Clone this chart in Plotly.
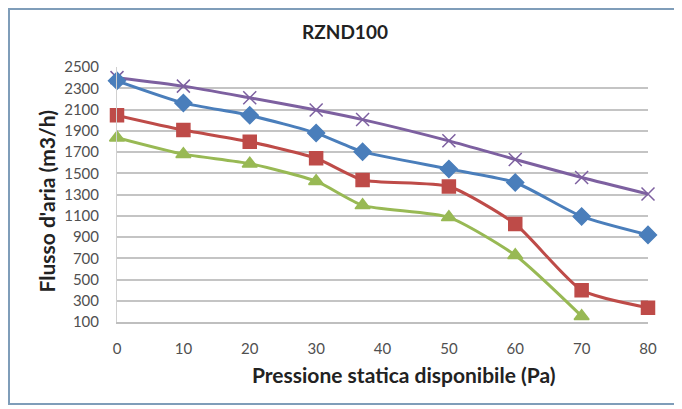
import plotly.graph_objects as go

# Pressione statica disponibile (Pa)
pressione = [0, 10, 20, 30, 37, 50, 60, 70, 80]
pressione_verde = [0, 10, 20, 30, 37, 50, 60, 70]

# Flusso d'aria (m3/h)
flusso_viola = [2400, 2320, 2210, 2095, 2005, 1805, 1630, 1460, 1305]
flusso_blu = [2370, 2162, 2045, 1878, 1703, 1541, 1413, 1094, 920]
flusso_rosso = [2045, 1907, 1797, 1641, 1437, 1375, 1022, 400, 235]
flusso_verde = [1835, 1680, 1590, 1425, 1198, 1085, 728, 155]

y_ticks = list(range(100, 2501, 200))
x_ticks = list(range(0, 81, 10))

fnt = "Lato, 'Open Sans', sans-serif"

fig = go.Figure()

def add_line(x, y, color, symbol, size):
    fig.add_trace(go.Scatter(
        x=x, y=y, mode="lines+markers",
        line=dict(color=color, width=3, shape="spline", smoothing=0.6),
        marker=dict(symbol=symbol, size=size, color=color,
                    line=dict(color=color, width=1.5)),
        cliponaxis=False, showlegend=False))

add_line(pressione, flusso_viola, "#7D60A0", "x-thin", 13)
add_line(pressione, flusso_blu, "#4A7EBB", "diamond", 13)
add_line(pressione, flusso_rosso, "#BE4B48", "square", 13)
add_line(pressione_verde, flusso_verde, "#98B954", "triangle-up", 13)

# la pagina ha 8px di margine: figura ridotta di conseguenza
fig.update_layout(
    width=674, height=401,
    margin=dict(l=109, r=34, t=59, b=87, autoexpand=False),
    paper_bgcolor="white", plot_bgcolor="white",
    font=dict(family=fnt, color="#404040"),
    title=dict(text="<b>RZND100</b>", x=0.5, xanchor="center",
               y=1 - 24 / 401, yanchor="middle",
               font=dict(size=19, color="#222222")),
    xaxis=dict(range=[0, 80], tickvals=x_ticks, showgrid=False,
               showline=True, linecolor="#BFBFBF", linewidth=1.5,
               ticks="", ticklabelstandoff=12,
               tickfont=dict(size=15, color="#505050"),
               zeroline=False),
    yaxis=dict(range=[100, 2500], tickvals=y_ticks, showgrid=True,
               gridcolor="#C4C4C4", gridwidth=1.8,
               showline=True, linecolor="#D0D0D0", linewidth=1,
               ticks="", ticklabelstandoff=14,
               tickfont=dict(size=15, color="#505050"),
               zeroline=False),
)

# titoli degli assi
fig.add_annotation(text="<b>Pressione statica disponibile (Pa)</b>",
                   xref="paper", yref="paper", x=0.5395, y=-0.2078,
                   xanchor="center", yanchor="middle", showarrow=False,
                   font=dict(size=21, color="#222222"))
fig.add_annotation(text="<b>Flusso d'aria (m3/h)</b>",
                   xref="paper", yref="paper", x=-0.1328, y=0.4745,
                   xanchor="center", yanchor="middle", showarrow=False,
                   textangle=-90, font=dict(size=21, color="#222222"))

# cornice del grafico
fig.add_shape(type="rect", xref="paper", yref="paper",
              x0=-108 / 531, x1=1 + 27 / 531, y0=-82 / 255, y1=1 + 58 / 255,
              line=dict(color="#7F9DB9", width=2), fillcolor="rgba(0,0,0,0)")

fig.write_html("out.html")
